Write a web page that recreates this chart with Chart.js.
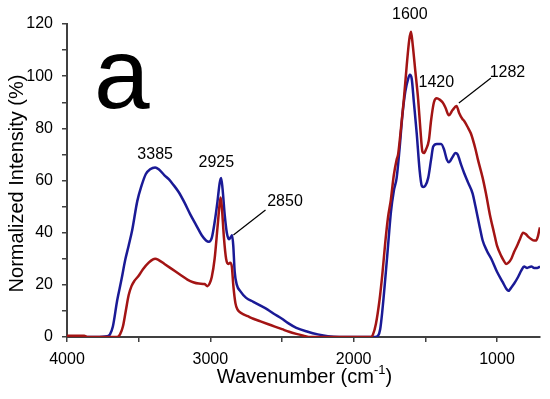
<!DOCTYPE html>
<html>
<head>
<meta charset="utf-8">
<script src="https://cdn.jsdelivr.net/npm/chart.js@4.4.1/dist/chart.umd.min.js"></script>
<style>
  html, body { margin: 0; padding: 0; background: #ffffff; }
  #wrap { width: 550px; height: 399px; }
</style>
</head>
<body>
<div id="wrap"><canvas id="c" width="550" height="399"></canvas></div>
<script>
// ---- Data ----
const blueWavenumbers = [4000,3800,3720,3700,3680,3650,3620,3594,3570,3545,3510,3480,3450,3420,3385,3360,3320,3290,3260,3220,3180,3140,3100,3060,3030,3010,2990,2970,2950,2935,2925,2915,2900,2885,2870,2855,2848,2840,2830,2815,2790,2750,2700,2650,2600,2560,2500,2460,2400,2320,2250,2180,2100,1850,1830,1815,1800,1780,1760,1740,1720,1700,1680,1660,1640,1620,1608,1595,1580,1560,1540,1525,1515,1500,1480,1460,1445,1420,1390,1370,1350,1336,1310,1290,1275,1250,1230,1200,1170,1150,1120,1100,1070,1040,1000,960,935,920,900,880,853,830,811,790,760,741,720,700];
const blueIntensity   = [0,0,0.3,1,4,14,22,29.5,35,41,52,58,62.5,64.3,65,64.3,62,60.5,58.5,55.5,51.5,47,43,39,37,36.5,38,44,52,59,61,57,47,40,37.5,38.5,39,35,25,20,17.5,15,13.5,12,10.5,9,7,5.4,3.5,2,1,0.3,0,0,0.5,3,10,22,35,48,56,61,72,85,94,99,100.5,99,90,78,64,58,57.5,58,61,68,73,74,74,72,68,67,69,70.5,70,66,63,59,55,50,42,37,33,30,25,21,18.5,17.7,19,20.5,23,25.5,27,26.5,27,26.5,26.5,27];

const redWavenumbers = [4000,3880,3860,3650,3630,3610,3590,3570,3550,3530,3500,3470,3430,3400,3385,3360,3320,3280,3240,3200,3160,3120,3080,3040,3020,3005,2990,2970,2950,2935,2928,2920,2905,2890,2875,2862,2850,2840,2825,2810,2780,2740,2700,2650,2600,2550,2500,2450,2400,2350,2300,1880,1865,1845,1820,1800,1780,1760,1741,1720,1700,1690,1670,1650,1630,1612,1600,1588,1570,1550,1535,1520,1510,1495,1475,1460,1440,1420,1400,1380,1360,1336,1310,1282,1265,1240,1231,1200,1182,1150,1133,1100,1077,1050,1021,1000,970,950,937,920,900,881,860,840,818,800,783,760,740,727,715,705,700];
const redIntensity   = [0.5,0.5,0,0,1,4,10,16,19.5,21.5,23.5,26,28.5,29.8,30,29.5,28,26.5,25,23.5,22,21,20.5,20.3,19.5,20.5,23,30,42,51,53.5,50,38,30,28,28.5,27,20,13,10.5,9,8,7,6,5,4,3,2,1.2,0.5,0,0,1,5,14,24,36,46,52.5,62,68,70,80,91,104,114,117,112,102,91,80,71,70.5,72,75.5,83,90,91.5,91,90,88,85,87,88.6,86,83.5,83,80,78,72,68,61,55,47,40,35,31,29,28,28.5,30,32.6,35,37.5,40,39.5,38.5,37.5,37,37,38.5,41,42];

const xMajorTicks = [4000, 3000, 2000, 1000];
const xAllTicks   = [4000, 3500, 3000, 2500, 2000, 1500, 1000];
const yTickLabels = [0, 20, 40, 60, 80, 100, 120];

// Peak annotations: [text, wavenumber, intensity] (label centre)
const peakLabels = [
  ['3385', 3385, 70],
  ['2925', 2958, 66.7],
  ['2850', 2479, 51.8],
  ['1600', 1608, 123.5],
  ['1420', 1423, 97.4],
  ['1282', 927, 101.2]
];
// Leader lines: [fromWn, fromY, toWn, toY]
const leaderLines = [
  [2615, 48.7, 2839, 39.1],
  [1042, 99.3, 1266, 89.7]
];
const panelLetter = ['a', 3811, 87.8];

const toPoints = (xs, ys) => xs.map((x, i) => ({ x: x, y: ys[i] }));

const FONT = '"Liberation Sans", Arial, sans-serif';

const textPlugin = {
  id: 'textPlugin',
  afterDraw(chart) {
    const ctx = chart.ctx;
    const xs = chart.scales.x, ys = chart.scales.y;
    const area = chart.chartArea;
    ctx.save();
    ctx.fillStyle = '#000';
    // panel letter
    ctx.font = '100px ' + FONT;
    ctx.textAlign = 'left';
    ctx.textBaseline = 'alphabetic';
    ctx.fillText(panelLetter[0], xs.getPixelForValue(panelLetter[1]), ys.getPixelForValue(panelLetter[2]));
    // peak labels
    ctx.font = '16px ' + FONT;
    ctx.textAlign = 'center';
    ctx.textBaseline = 'middle';
    peakLabels.forEach(p => ctx.fillText(p[0], xs.getPixelForValue(p[1]), ys.getPixelForValue(p[2])));
    // leader lines
    ctx.strokeStyle = '#000';
    ctx.lineWidth = 1.2;
    leaderLines.forEach(l => {
      ctx.beginPath();
      ctx.moveTo(xs.getPixelForValue(l[0]), ys.getPixelForValue(l[1]));
      ctx.lineTo(xs.getPixelForValue(l[2]), ys.getPixelForValue(l[3]));
      ctx.stroke();
    });
    // y axis title
    ctx.save();
    ctx.translate(17, (area.top + area.bottom) / 2 + 3);
    ctx.rotate(-Math.PI / 2);
    ctx.font = '20px ' + FONT;
    ctx.textAlign = 'center';
    ctx.textBaseline = 'middle';
    ctx.fillText('Normalized Intensity (%)', 0, 0);
    ctx.restore();
    // x axis title with superscript
    const main = 'Wavenumber (cm';
    const sup = '-1';
    const close = ')';
    ctx.font = '20px ' + FONT;
    const wMain = ctx.measureText(main).width;
    const wClose = ctx.measureText(close).width;
    ctx.font = '13px ' + FONT;
    const wSup = ctx.measureText(sup).width;
    const total = wMain + wSup + wClose;
    let x0 = (area.left + area.right) / 2 - total / 2 + 1;
    const base = 383;
    ctx.textAlign = 'left';
    ctx.textBaseline = 'alphabetic';
    ctx.font = '20px ' + FONT;
    ctx.fillText(main, x0, base);
    ctx.font = '13px ' + FONT;
    ctx.fillText(sup, x0 + wMain, base - 9);
    ctx.font = '20px ' + FONT;
    ctx.fillText(close, x0 + wMain + wSup, base);
    ctx.restore();
  }
};

new Chart(document.getElementById('c'), {
  type: 'line',
  data: {
    datasets: [
      {
        label: 'red',
        data: toPoints(redWavenumbers, redIntensity),
        borderColor: '#a31414',
        borderWidth: 2.5,
        pointRadius: 0,
        fill: false,
        cubicInterpolationMode: 'monotone'
      },
      {
        label: 'blue',
        data: toPoints(blueWavenumbers, blueIntensity),
        borderColor: '#1a1a96',
        borderWidth: 2.5,
        pointRadius: 0,
        fill: false,
        cubicInterpolationMode: 'monotone'
      }
    ]
  },
  options: {
    responsive: false,
    animation: false,
    events: [],
    layout: { padding: { top: 24, right: 10, left: 0, bottom: 0 } },
    plugins: { legend: { display: false }, tooltip: { enabled: false } },
    scales: {
      x: {
        type: 'linear',
        reverse: true,
        min: 700,
        max: 4000,
        afterBuildTicks: s => { s.ticks = xAllTicks.map(v => ({ value: v })); },
        afterFit: s => { s.height = 62; },
        ticks: {
          autoSkip: false,
          maxRotation: 0,
          padding: 8,
          color: '#000',
          font: { family: FONT, size: 16 },
          callback: v => xMajorTicks.includes(v) ? String(v) : ''
        },
        grid: { drawOnChartArea: false, drawTicks: true, tickLength: 5, color: '#404040', lineWidth: 1.5 },
        border: { color: '#404040', width: 2 }
      },
      y: {
        min: 0,
        max: 120,
        afterBuildTicks: s => {
          const t = [];
          for (let i = 0; i < yTickLabels.length; i++) {
            t.push({ value: yTickLabels[i] });
            if (i < yTickLabels.length - 1) t.push({ value: (yTickLabels[i] + yTickLabels[i + 1]) / 2 });
          }
          s.ticks = t;
        },
        afterFit: s => { s.width = 67; },
        ticks: {
          autoSkip: false,
          padding: 9,
          color: '#000',
          font: { family: FONT, size: 16 },
          callback: v => yTickLabels.includes(v) ? String(v) : ''
        },
        grid: { drawOnChartArea: false, drawTicks: true, tickLength: 5, color: '#404040', lineWidth: 1.5 },
        border: { color: '#404040', width: 2 }
      }
    }
  },
  plugins: [textPlugin]
});
</script>
</body>
</html>
